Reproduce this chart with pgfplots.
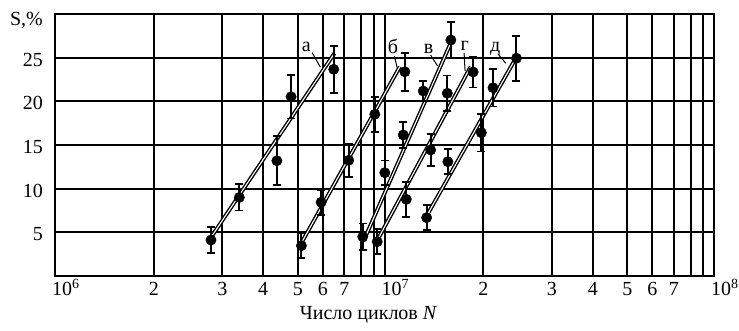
\documentclass[border=0pt]{standalone}
\usepackage{fontspec}
\setmainfont{Liberation Serif}
\usepackage{pgfplots}
\pgfplotsset{compat=1.18}
\pgfplotsset{
  pts/.style={only marks, black, mark=*, mark size=5.2pt,
    mark options={fill=black, draw=black, line width=0.4pt},
    error bars/.cd, y dir=both, y explicit,
    error bar style={line width=2pt, black},
    error mark=-,
    error mark options={rotate=90, line width=1.7pt, mark size=4pt, black}},
  fit/.style={black, line width=1.4pt, double=white, double distance=1.1pt, mark=none},
  lead/.style={black, line width=1pt, mark=none},
}
\begin{document}
\begin{tikzpicture}[font=\fontsize{20}{23}\selectfont]
\path[use as bounding box] (-55pt,-55pt) rectangle (684pt,276pt);
\begin{axis}[
  at={(0pt,0pt)}, anchor=south west,
  scale only axis, width=659pt, height=262pt,
  xmode=log, xmin=1e6, xmax=1e8, ymin=0, ymax=30,
  axis line style={line width=2pt},
  grid=major, major grid style={black, line width=2pt},
  major tick length=0pt, minor tick length=0pt,
  xtick={1e6,1.995e6,3.221e6,4.285e6,5.458e6,6.501e6,7.551e6,8.511e6,9.290e6,
         1e7,1.995e7,3.221e7,4.285e7,5.458e7,6.501e7,7.551e7,8.511e7,9.290e7,1e8},
  xticklabels={\makebox[0pt][l]{\hspace*{-3pt}10\textsuperscript{6}},2,3,4,5,6,7,{},{},
               \makebox[0pt][l]{\hspace*{-3pt}10\textsuperscript{7}},2,3,4,5,6,7,{},{},
               \makebox[0pt][l]{\hspace*{-3pt}10\textsuperscript{8}}},
  ytick={5,10,15,20,25},
  /pgf/number format/assume math mode=true,
  xticklabel style={text height=13.5pt, text depth=0pt, inner sep=0pt, yshift=-6pt},
  yticklabel style={inner sep=0pt, xshift=-12pt, yshift=-2pt},
  clip=false,
]
% series a
\addplot[fit] coordinates {(2.959e6,4.3) (7.047e6,25.5)};
\addplot[pts] coordinates {
  (2.974e6,4.12) +- (0,1.5)
  (3.625e6,9.0) +- (0,1.5)
  (4.713e6,13.2) +- (0,2.8)
  (5.205e6,20.53) +- (0,2.5)
  (7.013e6,23.67) +- (0,2.7)};
% series b
\addplot[fit] coordinates {(5.622e6,3.93) (1.113e7,23.97)};
\addplot[pts] coordinates {
  (5.595e6,3.47) +- (0,1.43)
  (6.421e6,8.44) +- (0,1.43)
  (7.789e6,13.25) +- (0,1.9)
  (9.344e6,18.52) +- (0,2.0)
  (1.1527e7,23.39) +- (0,2.17)};
% series v
\addplot[fit] coordinates {(8.635e6,4.0) (1.587e7,26.65)};
\addplot[pts] coordinates {
  (8.590e6,4.5) +- (0,1.5)
  (1.002e7,11.83) +- (0,1.4)
  (1.1397e7,16.15) +- (0,1.52)
  (1.311e7,21.18) +- (0,1.15)
  (1.590e7,27.02) +- (0,2.1)};
% series g
\addplot[fit] coordinates {(9.521e6,4.12) (1.826e7,23.97)};
\addplot[pts] coordinates {
  (9.502e6,3.93) +- (0,1.43)
  (1.164e7,8.78) +- (0,2.0)
  (1.380e7,14.43) +- (0,1.8)
  (1.551e7,20.92) +- (0,2.05)
  (1.858e7,23.36) +- (0,1.76)};
% series d
\addplot[fit] coordinates {(1.3635e7,7.33) (2.484e7,24.73)};
\addplot[pts] coordinates {
  (1.342e7,6.68) +- (0,1.45)
  (1.557e7,13.09) +- (0,1.43)
  (1.967e7,16.41) +- (0,2.15)
  (2.134e7,21.56) +- (0,2.15)
  (2.514e7,24.93) +- (0,2.58)};
% leaders
\addplot[lead] coordinates {(6.029e6,25.57) (6.391e6,23.9)};
\addplot[lead] coordinates {(1.072e7,25.19) (1.091e7,23.9)};
\addplot[lead] coordinates {(1.380e7,25.3) (1.449e7,24.05)};
\addplot[lead] coordinates {(1.744e7,25.54) (1.756e7,23.47)};
\addplot[lead] coordinates {(2.21e7,25.42) (2.333e7,24.36)};
% labels
\node[anchor=base, inner sep=0pt] at (axis cs:5.794e6,25.65) {а};
\node[anchor=base, inner sep=0pt] at (axis cs:1.061e7,25.5) {б};
\node[anchor=base, inner sep=0pt] at (axis cs:1.360e7,25.5) {в};
\node[anchor=base, inner sep=0pt] at (axis cs:1.751e7,25.8) {г};
\node[anchor=base, inner sep=0pt] at (axis cs:2.167e7,25.7) {д};
\node[anchor=east, inner sep=0pt] at (rel axis cs:0,1) [xshift=-12pt, yshift=-6pt] {S,\%};
\node[anchor=base, inner sep=0pt] at (rel axis cs:0.5,0) [xshift=-16pt, yshift=-44pt] {Число циклов \textit{N}};
\end{axis}
\end{tikzpicture}
\end{document}
